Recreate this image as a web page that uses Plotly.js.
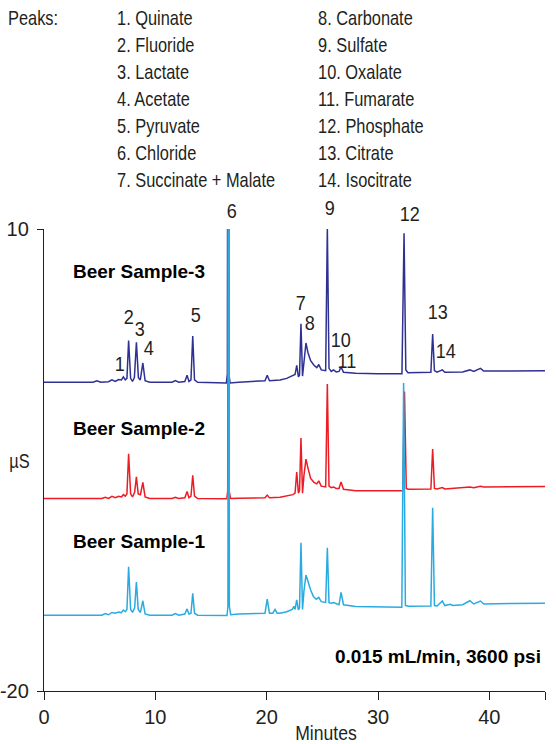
<!DOCTYPE html>
<html>
<head>
<meta charset="utf-8">
<script src="https://cdn.plot.ly/plotly-3.0.1.min.js"></script>
<style>
html,body{margin:0;padding:0;background:#ffffff;}
#chart{width:556px;height:744px;}
</style>
</head>
<body>
<div id="chart"></div>
<script>
// ---------------- DATA ----------------
// [time (min), conductivity (µS)]
const sample3Points = [
  [0,0.05],[4.4,0.05],[4.75,0.15],[5.1,0.05],[5.8,0.08],[6.1,0.2],[6.4,0.1],[6.7,0.22],[6.95,0.2],
  [7.13,0.4],[7.3,0.2],[7.45,0.3],[7.6,2.75],[7.78,0.3],[7.95,0.1],[8.12,0.35],[8.3,2.65],[8.48,0.35],
  [8.65,0.2],[8.88,1.3],[9.08,0.15],[9.5,0.05],[11.5,0.05],[11.8,0.15],[12.1,0.05],[12.65,0.1],
  [12.85,0.5],[13.02,0.1],[13.2,0.2],[13.36,3.05],[13.52,0.2],[13.8,0.05],[16.38,0.0],[16.47,0.6],
  [16.53,40],[16.6,0.6],[16.72,0.0],[17.5,0.05],[19.85,0.15],[20.05,0.5],[20.25,0.15],[21.2,0.2],
  [21.8,0.3],[22.35,0.45],[22.55,0.55],[22.7,1.15],[22.85,0.4],[22.95,0.5],[23.08,3.85],[23.22,0.45],
  [23.35,1.4],[23.53,2.6],[23.7,2.0],[23.95,1.45],[24.25,1.15],[24.5,1.0],[24.68,1.2],[24.9,0.85],
  [25.3,0.8],[25.45,10.1],[25.6,0.95],[25.8,0.75],[26.0,0.85],[26.25,0.72],[26.5,0.75],[26.68,1.05],
  [26.9,0.7],[28,0.63],[30,0.6],[32.15,0.6],[32.34,9.72],[32.5,0.85],[32.7,0.67],[33.5,0.67],
  [34.75,0.7],[34.91,3.18],[35.07,0.8],[35.3,0.7],[35.78,0.85],[36.0,0.7],[37.6,0.72],[38.25,0.85],
  [38.6,0.75],[39.2,0.95],[39.5,0.78],[42,0.78],[45,0.8]
];
const sample2Points = [
  [0,-7.5],[5.2,-7.5],[5.5,-7.42],[5.8,-7.5],[6.1,-7.36],[6.4,-7.45],[6.7,-7.36],[6.95,-7.4],
  [7.13,-7.25],[7.3,-7.35],[7.45,-7.2],[7.6,-4.6],[7.78,-7.2],[7.95,-7.4],[8.14,-7.1],[8.3,-6.1],
  [8.46,-7.2],[8.66,-7.25],[8.88,-6.45],[9.08,-7.4],[9.5,-7.5],[11.5,-7.5],[11.8,-7.42],[12.1,-7.5],
  [12.65,-7.45],[12.85,-7.05],[13.02,-7.45],[13.2,-7.35],[13.36,-6.0],[13.52,-7.35],[13.8,-7.5],
  [16.42,-7.52],[16.5,-7.0],[16.56,40],[16.63,-7.0],[16.75,-7.5],[17.5,-7.48],[19.85,-7.45],
  [20.05,-7.28],[20.25,-7.45],[21.2,-7.42],[21.8,-7.35],[22.35,-7.25],[22.55,-7.15],[22.7,-5.78],
  [22.85,-7.15],[22.95,-7.0],[23.08,-3.57],[23.22,-7.16],[23.35,-6.0],[23.53,-4.94],[23.7,-5.5],
  [23.95,-6.2],[24.25,-6.45],[24.5,-6.55],[24.68,-6.36],[24.9,-6.7],[25.3,-6.75],[25.45,-0.06],
  [25.6,-6.7],[25.8,-6.8],[26.0,-6.75],[26.25,-6.85],[26.5,-6.85],[26.68,-6.43],[26.9,-6.9],
  [28,-7.0],[30,-7.0],[32.22,-7.0],[32.38,-0.56],[32.54,-6.85],[32.7,-6.9],[33.5,-6.9],[34.75,-6.88],
  [34.91,-4.29],[35.07,-6.85],[35.3,-6.88],[35.78,-6.79],[36.0,-6.88],[37.6,-6.82],[38.25,-6.75],
  [38.6,-6.8],[39.2,-6.7],[39.5,-6.75],[42,-6.73],[45,-6.72]
];
const sample1Points = [
  [0,-15.08],[5.2,-15.08],[5.5,-14.97],[5.8,-15.05],[6.1,-14.9],[6.4,-14.95],[6.7,-14.88],[6.95,-14.92],
  [7.13,-14.74],[7.3,-14.85],[7.45,-14.7],[7.6,-11.93],[7.78,-14.7],[7.95,-14.9],[8.14,-14.6],[8.3,-12.92],
  [8.46,-14.7],[8.66,-14.9],[8.88,-14.14],[9.08,-15.0],[9.5,-15.08],[11.5,-15.08],[11.8,-14.97],
  [12.1,-15.08],[12.65,-15.0],[12.85,-14.67],[13.02,-15.0],[13.2,-14.95],[13.36,-13.66],[13.52,-14.95],
  [13.8,-15.08],[16.44,-15.1],[16.52,-14.5],[16.58,40],[16.65,-14.5],[16.77,-15.05],[17.5,-15.0],
  [19.85,-14.95],[20.05,-14.04],[20.25,-14.95],[20.55,-14.95],[20.75,-14.7],[20.95,-14.95],[21.2,-14.95],
  [21.8,-14.85],[22.3,-14.7],[22.45,-14.5],[22.55,-14.7],[22.7,-14.09],[22.85,-14.74],[22.95,-14.6],
  [23.08,-10.37],[23.22,-14.7],[23.35,-13.5],[23.53,-12.47],[23.7,-12.9],[23.95,-13.44],[24.2,-13.87],
  [24.45,-14.04],[24.68,-13.92],[24.9,-14.2],[25.3,-14.25],[25.45,-10.7],[25.6,-14.26],[25.8,-14.3],
  [26.0,-14.25],[26.25,-14.35],[26.5,-14.4],[26.68,-13.6],[26.9,-14.4],[28,-14.52],[30,-14.56],
  [32.14,-14.56],[32.3,0.0],[32.46,-14.45],[32.7,-14.5],[33.5,-14.48],[34.75,-14.48],[34.91,-8.1],
  [35.07,-14.45],[35.3,-14.48],[35.78,-14.16],[36.0,-14.45],[36.5,-14.37],[36.7,-14.45],[37.6,-14.4],
  [38.25,-14.14],[38.6,-14.35],[39.2,-14.16],[39.5,-14.35],[42,-14.32],[45,-14.3]
];
const sampleNames = ['Beer Sample-3','Beer Sample-2','Beer Sample-1'];
const peakNumbers = ['1','2','3','4','5','6','7','8','9','10','11','12','13','14'];
const peakNames = ['Quinate','Fluoride','Lactate','Acetate','Pyruvate','Chloride','Succinate + Malate',
  'Carbonate','Sulfate','Oxalate','Fumarate','Phosphate','Citrate','Isocitrate'];
const xTickVals = [0,10,20,30,40,45];
const xTickText = ['0','10','20','30','40','45'];
const yTickVals = [10,-20];
const yTickText = ['10','-20'];
const conditionsText = '0.015 mL/min, 3600 psi';
const xTitle = 'Minutes';
const yTitle = 'µS';

// ---------------- STYLE / LAYOUT ----------------
const W = 556, H = 744;
const M = {l:44, r:11, t:229, b:53};
const plotW = W - M.l - M.r, plotH = H - M.t - M.b;
const px2x = p => (p - M.l) / plotW;           // pixel -> paper x
const py2y = p => (H - M.b - p) / plotH;         // pixel -> paper y
const SANS = '"Liberation Sans", Arial, sans-serif';
const INK = '#231f20';
const colors = ['#2e3192','#ed1c24','#29abe2'];

const series = [sample3Points, sample2Points, sample1Points];
const traces = series.map((pts, i) => ({
  type:'scatter', mode:'lines',
  x: pts.map(p => p[0]), y: pts.map(p => p[1]),
  line:{color:colors[i], width:1.5, shape:'linear'},
  hoverinfo:'skip', showlegend:false, name: sampleNames[i]
}));

const annotations = [];
const squeeze = [];   // horizontal condensing factor per annotation (emulates a condensed face)
const addText = (text, px, py, font, xanchor, sq) => {
  annotations.push({
    text, x:px2x(px), y:py2y(py), xref:'paper', yref:'paper',
    xanchor: xanchor || 'left', yanchor:'middle', showarrow:false, font
  });
  squeeze.push(sq || 1);
};
const regFont = {family:SANS, size:20, color:INK};

// peak list
addText('Peaks:', 6, 18, regFont, 'left', 0.82);
peakNames.forEach((n, i) => {
  const col = i < 7 ? 0 : 1;
  const row = i % 7;
  addText(peakNumbers[i] + '. ' + n, col === 0 ? 115 : 316, 18 + row * 27, regFont, 'left', 0.82);
});

// peak number labels (pixel centres)
const peakLabelPos = [[120,363],[128.5,316],[139.5,328.5],[148.5,347],[196,314],[232,210],[300.5,302.5],
  [310,322.5],[329.5,207.5],[340.5,339.5],[347,360],[409,214],[437,311.5],[446,350.5]];
peakNumbers.forEach((n, i) => {
  addText(n, peakLabelPos[i][0], peakLabelPos[i][1], {family:SANS, size:21, color:INK}, 'center', 0.86);
});

// sample labels & notes
const sampleLabelY = [271, 428, 541];
sampleNames.forEach((n, i) => addText('<b>' + n + '</b>', 71, sampleLabelY[i], {family:SANS, size:19, color:'#000'}));
addText('<b>' + conditionsText + '</b>', 543, 656, {family:SANS, size:19, color:'#000'}, 'right');
addText(xTitle, 326, 733, {family:SANS, size:20, color:INK}, 'center', 0.88);
addText(yTitle, 19, 461, {family:SANS, size:20, color:INK}, 'center', 0.82);

const axisCommon = {
  tickmode:'array', ticks:'outside', tickwidth:1, tickcolor:INK,
  showline:true, linecolor:INK, linewidth:1.2, showgrid:false, zeroline:false,
  tickfont:{family:SANS, size:20, color:INK}, fixedrange:true
};
const layout = {
  width:W, height:H, margin:M,
  paper_bgcolor:'#ffffff', plot_bgcolor:'#ffffff',
  showlegend:false,
  xaxis:Object.assign({}, axisCommon, {range:[0,45], tickvals:xTickVals, ticktext:xTickText, ticklen:8}),
  yaxis:Object.assign({}, axisCommon, {range:[-20,10], tickvals:yTickVals, ticktext:yTickText, ticklen:6, ticklabelstandoff:4}),
  annotations
};
Plotly.newPlot('chart', traces, layout, {displayModeBar:false, staticPlot:true}).then(gd => {
  gd.querySelectorAll('.annotation').forEach(g => {
    const i = +g.getAttribute('data-index');
    const s = squeeze[i];
    if (!s || s === 1) return;
    const t = g.querySelector('text.annotation-text');
    if (!t) return;
    const anchor = annotations[i].xanchor;
    t.style.transformBox = 'fill-box';
    t.style.transformOrigin = anchor === 'left' ? 'left center' : (anchor === 'right' ? 'right center' : 'center center');
    t.style.transform = 'scaleX(' + s + ')';
  });
});
</script>
</body>
</html>
